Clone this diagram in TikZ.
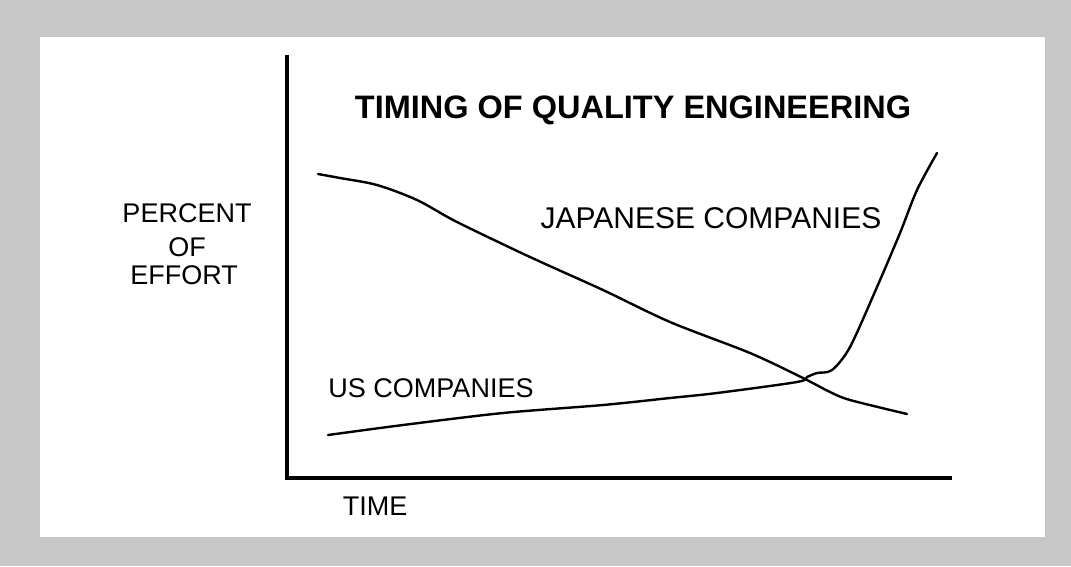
\documentclass[tikz,border=0pt]{standalone}
\usepackage{fontspec}
\setmainfont{Liberation Sans}
\usetikzlibrary{positioning}

\begin{document}
\begin{tikzpicture}[x=1pt, y=-1pt, label/.style={font=\fontsize{27}{31}\selectfont, inner sep=0pt}, curve/.style={line width=2.4pt, line cap=round, line join=round}]
        \useasboundingbox (0,0) rectangle (1071,566);
        % Frame
        \fill[black!22] (0,0) rectangle (1071,566);
        \fill[white] (40,37) rectangle (1045,537);

        % Nodes
        \node (title) [label, font=\fontsize{32.5}{36}\bfseries\selectfont, anchor=base] at (633,118) {TIMING OF QUALITY ENGINEERING};
        \node (percent) [label, anchor=base] at (187,222) {PERCENT};
        \node (of) [label, anchor=base] at (187,256) {OF};
        \node (effort) [label, anchor=base] at (184,284) {EFFORT};
        \node (japan) [label, font=\fontsize{30}{34}\selectfont, anchor=base] at (711,228) {JAPANESE COMPANIES};
        \node (us) [label, anchor=base] at (431,397) {US COMPANIES};
        \node (time) [label, anchor=base] at (375,515) {TIME};

        % Axes
        \coordinate (top) at (287,55);
        \coordinate (origin) at (287,478);
        \coordinate (right) at (952,478);
        \draw[line width=3.4pt, line join=miter] (top) -- (origin) -- (right);

        % Falling curve
        \draw[curve] plot[smooth, tension=0.5] coordinates {(318,174) (340,178) (377,185) (417,200) (457,222) (530,257) (603,290) (670,322) (750,353) (803,378) (830,392) (850,400) (907,414)};

        % Rising curve
        \draw[curve] plot[smooth, tension=0.5] coordinates {(328,435) (403,425) (503,413) (603,405) (670,398) (717,393) (797,382) (807,377) (817,373) (832,370) (850,347) (877,287) (900,233) (917,190) (937,153)};
    \end{tikzpicture}
\end{document}
